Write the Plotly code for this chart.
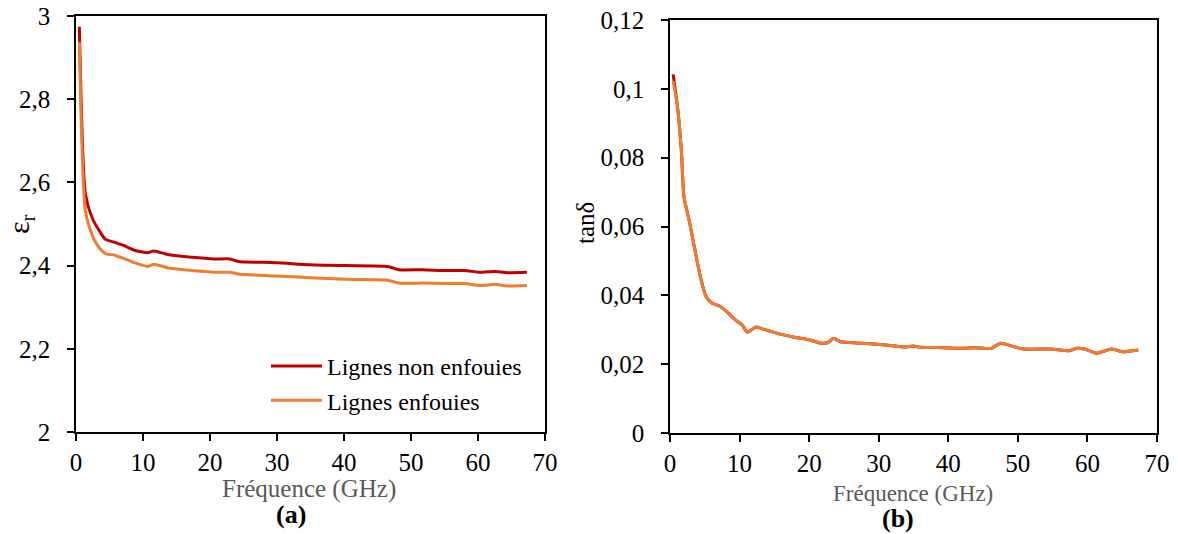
import plotly.graph_objects as go
from plotly.subplots import make_subplots

# (a) permittivity
freq_a = [0.5, 1.4, 2.4, 3.55, 4.4, 5.8, 7.0, 8.7, 10.7, 11.6, 13.9, 17.3, 20.7, 23.0, 24.2,
          29.9, 35.0, 40.2, 46.5, 48.2, 51.7, 55.1, 58.0, 60.3, 62.6, 64.3, 67.3]
er_non_enfouies = [2.974, 2.572, 2.515, 2.482, 2.463, 2.456, 2.449, 2.437, 2.431, 2.435, 2.426,
                   2.420, 2.416, 2.416, 2.410, 2.407, 2.402, 2.400, 2.398, 2.390, 2.390, 2.388,
                   2.388, 2.384, 2.386, 2.383, 2.384]
er_enfouies = [2.937, 2.531, 2.474, 2.441, 2.429, 2.425, 2.418, 2.407, 2.398, 2.403, 2.394,
               2.388, 2.384, 2.384, 2.380, 2.375, 2.371, 2.367, 2.365, 2.358, 2.358, 2.357,
               2.357, 2.352, 2.355, 2.351, 2.352]

# (b) loss tangent
freq_b = [0.45, 1.1, 1.65, 2.0, 2.75, 3.6, 4.4, 5.2, 6.0, 7.1, 8.2, 9.3, 10.4, 11.1, 12.4, 13.5,
          15.7, 17.9, 20.0, 21.7, 22.7, 23.5, 24.5, 27.7, 31.0, 33.8, 34.9, 36.0, 39.3, 42.0,
          43.7, 46.2, 47.5, 49.7, 50.8, 54.7, 57.4, 58.5, 59.6, 61.3, 63.5, 65.1, 67.3]
tan_non_enfouies = [0.1042, 0.0944, 0.0816, 0.0687, 0.0618, 0.0530, 0.0451, 0.0396, 0.0378,
                    0.0369, 0.0352, 0.0330, 0.0313, 0.0293, 0.0308, 0.0301, 0.0288, 0.0278,
                    0.0271, 0.0261, 0.0263, 0.0275, 0.0265, 0.0261, 0.0256, 0.0250, 0.0253,
                    0.0249, 0.0248, 0.0246, 0.0248, 0.0246, 0.0261, 0.0249, 0.0244, 0.0244,
                    0.0239, 0.0246, 0.0244, 0.0232, 0.0244, 0.0236, 0.0241]
tan_enfouies = [0.1023, 0.0944, 0.0816, 0.0687, 0.0618, 0.0530, 0.0451, 0.0396, 0.0378,
                0.0369, 0.0352, 0.0330, 0.0313, 0.0293, 0.0308, 0.0301, 0.0288, 0.0278,
                0.0271, 0.0261, 0.0263, 0.0275, 0.0265, 0.0261, 0.0256, 0.0250, 0.0253,
                0.0249, 0.0248, 0.0246, 0.0248, 0.0246, 0.0261, 0.0249, 0.0244, 0.0244,
                0.0239, 0.0246, 0.0244, 0.0232, 0.0244, 0.0236, 0.0241]

RED = '#C00000'
ORANGE = '#ED7D31'
FONT = 'Times New Roman, Liberation Serif, serif'
W, H = 1178, 534

fig = make_subplots(rows=1, cols=2)

fig.add_trace(go.Scatter(x=freq_a, y=er_non_enfouies, mode='lines', name='Lignes non enfouies',
                         line=dict(color=RED, width=3, shape='spline', smoothing=0.6)), row=1, col=1)
fig.add_trace(go.Scatter(x=freq_a, y=er_enfouies, mode='lines', name='Lignes enfouies',
                         line=dict(color=ORANGE, width=3, shape='spline', smoothing=0.6)), row=1, col=1)
fig.add_trace(go.Scatter(x=freq_b, y=tan_non_enfouies, mode='lines', showlegend=False,
                         line=dict(color=RED, width=3, shape='spline', smoothing=0.6)), row=1, col=2)
fig.add_trace(go.Scatter(x=freq_b, y=tan_enfouies, mode='lines', showlegend=False,
                         line=dict(color=ORANGE, width=3, shape='spline', smoothing=0.6)), row=1, col=2)

axis_style = dict(showgrid=False, zeroline=False, showline=True, linecolor='black', linewidth=1.5,
                  mirror=True, ticks='outside', ticklen=7, tickcolor='black', tickwidth=1.5,
                  automargin=False,
                  tickfont=dict(family=FONT, size=25, color='black'))

fig.update_xaxes(axis_style, range=[0, 70], dtick=10, ticklabelstandoff=0)
fig.update_xaxes(domain=[76 / W, 545 / W], row=1, col=1)
fig.update_xaxes(domain=[670 / W, 1157 / W], row=1, col=2)
fig.update_yaxes(axis_style, ticklabelstandoff=12)
fig.update_yaxes(domain=[1 - 432 / H, 1 - 16 / H], range=[2, 3],
                 tickvals=[2, 2.2, 2.4, 2.6, 2.8, 3], ticktext=['2', '2,2', '2,4', '2,6', '2,8', '3'],
                 row=1, col=1)
fig.update_yaxes(domain=[1 - 433 / H, 1 - 20 / H], range=[0, 0.12],
                 tickvals=[0, 0.02, 0.04, 0.06, 0.08, 0.1, 0.12],
                 ticktext=['0', '0,02', '0,04', '0,06', '0,08', '0,1', '0,12'], row=1, col=2)

notes = [
    dict(text='ε<sub>r</sub>', x=21, y=224, size=30, color='black', angle=-90),
    dict(text='tanδ', x=585, y=223, size=25, color='black', angle=-90),
    dict(text='Fréquence (GHz)', x=309, y=489, size=25, color='#595959', angle=0),
    dict(text='<b>(a)</b>', x=291, y=514, size=26, color='black', angle=0),
    dict(text='Fréquence (GHz)', x=913, y=493, size=23, color='#595959', angle=0),
    dict(text='<b>(b)</b>', x=898, y=518, size=26, color='black', angle=0),
]
for n in notes:
    fig.add_annotation(text=n['text'], x=n['x'] / W, y=1 - n['y'] / H, xref='paper', yref='paper',
                       xanchor='center', yanchor='middle', showarrow=False, textangle=n['angle'],
                       font=dict(family=FONT, size=n['size'], color=n['color']))

fig.update_layout(
    width=W, height=H,
    font=dict(family=FONT, color='black'),
    margin=dict(l=0, r=0, t=0, b=0, autoexpand=False),
    plot_bgcolor='white', paper_bgcolor='white',
    legend=dict(x=266 / W, y=1 - 344 / H, xanchor='left', yanchor='top',
                font=dict(family=FONT, size=24, color='black'),
                bgcolor='rgba(0,0,0,0)', itemwidth=51, tracegroupgap=0),
)

fig.write_html("out.html", config={'displayModeBar': False},
               post_script="document.body.style.margin='0';")
